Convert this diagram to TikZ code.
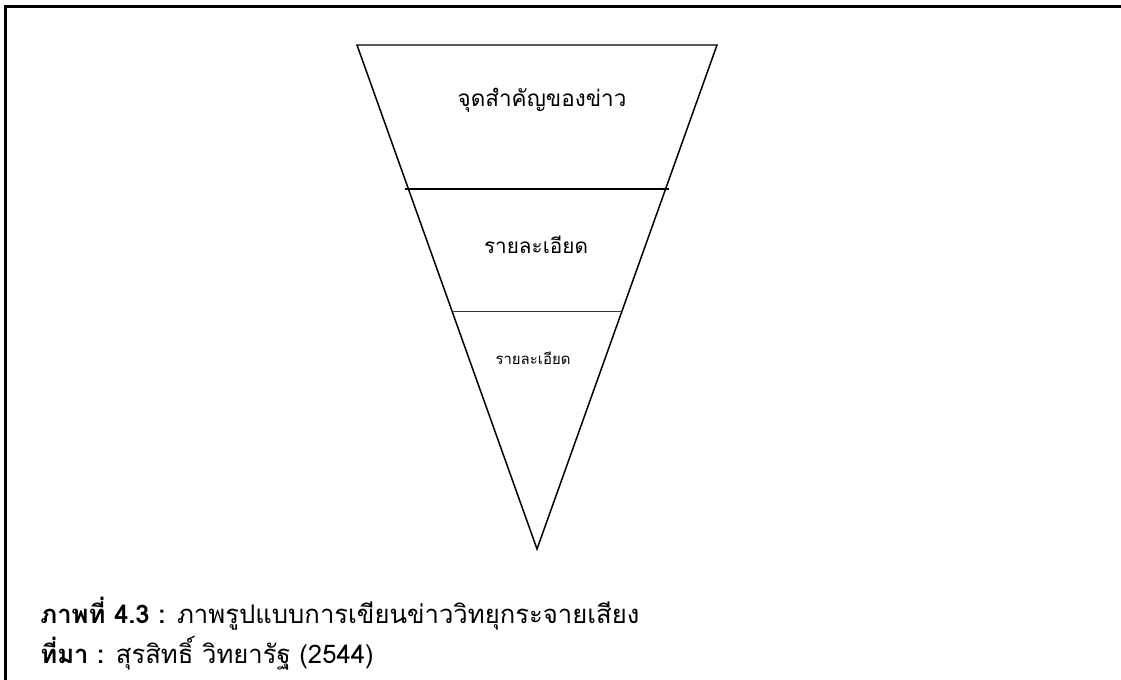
\documentclass[tikz,border=0pt]{standalone}
\usepackage{fontspec}
\newfontfamily\thaifont[Script=Thai]{Loma}
\tikzset{
  frameline/.style={line width=1.2pt, line cap=rect},
  funnel/.style={line width=0.85pt, line join=miter},
  thickdiv/.style={line width=1.2pt},
  thindiv/.style={line width=0.45pt, black!80},
  lbl/.style={font=\thaifont, inner sep=0pt},
  captext/.style={font=\thaifont\fontsize{14.6}{16}\selectfont, anchor=base west, inner sep=0pt}
}
\begin{document}
\begin{tikzpicture}[x=0.02cm, y=-0.02cm]
\useasboundingbox (0,0) rectangle (1121,679);
% frame
\draw[frameline] (5.5,679) -- (5.5,6.5) -- (1121,6.5);
% funnel
\coordinate (tl) at (357,45);
\coordinate (tr) at (717,45);
\coordinate (ap) at (537,549);
\draw[funnel] (tl) -- (tr) -- (ap) -- cycle;
\coordinate (d1l) at (405,189);
\coordinate (d1r) at (669,189);
\draw[thickdiv] (d1l) -- (d1r);
\coordinate (d2l) at (452,311);
\coordinate (d2r) at (622,311);
\draw[thindiv] (d2l) -- (d2r);
% labels
\node[lbl, font=\thaifont\fontsize{12.8}{14}\selectfont] (t1) at (542,100) {จุดสำคัญของข่าว};
\node[lbl, font=\thaifont\fontsize{11.8}{13}\selectfont] (t2) at (536,245) {รายละเอียด};
\node[lbl, font=\thaifont\fontsize{8.5}{10}\selectfont] (t3) at (533,358) {รายละเอียด};
% caption
\node[captext] (c1) at (40,623) {\textbf{ภาพที่ 4.3 :} ภาพรูปแบบการเขียนข่าววิทยุกระจายเสียง};
\node[captext] (c2) at (40,663) {\textbf{ที่มา :} สุรสิทธิ์ วิทยารัฐ (2544)};
\end{tikzpicture}
\end{document}
